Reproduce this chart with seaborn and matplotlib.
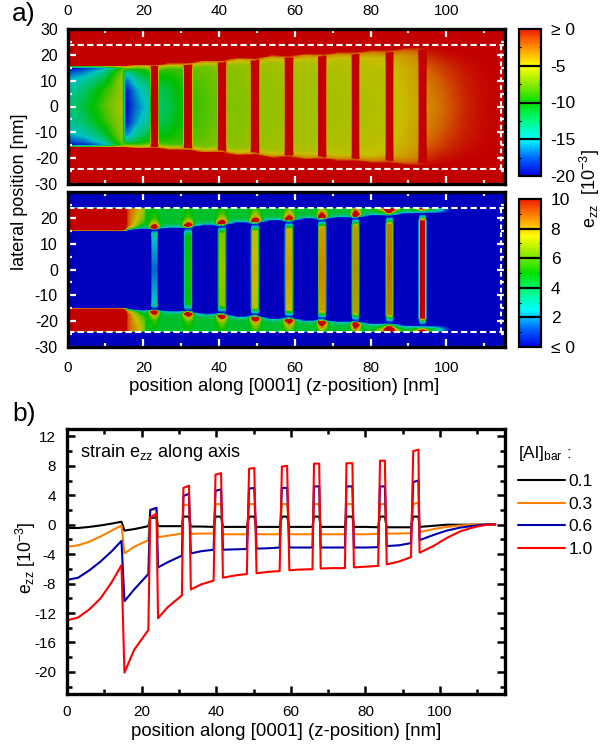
import numpy as np
import matplotlib
matplotlib.use("Agg")
import matplotlib.pyplot as plt
from matplotlib.cm import ScalarMappable
from matplotlib.colors import LinearSegmentedColormap, Normalize
import seaborn as sns

# ---------- panel b: strain along the wire axis ----------
z_axis = [0, 3, 6, 9, 12, 14.6, 15.4, 18, 21.8, 22.3, 24, 24.4, 27, 30.8, 31.2, 32.7, 33.2, 36, 39.3, 39.8, 41.3,
          41.8, 45, 48.2, 48.8, 50.2, 50.8, 54, 57, 57.6, 59, 59.6, 62, 65.8, 66.2, 67.6, 68, 71, 74.5, 74.9, 76.5,
          76.9, 80, 83.4, 83.9, 85.2, 85.7, 89, 92.2, 92.8, 94.2, 94.5, 98.2, 101.8, 105.4, 109, 112.5, 114.8]
strain_01 = [-0.45, -0.45, -0.3, -0.1, 0.15, 0.4, -0.8, -0.6, -0.2, 0.9, 1.0, -0.2, -0.2, -0.2, 1.1, 1.1, -0.25, -0.25, -0.3, 1.1, 1.1,
             -0.3, -0.3, -0.3, 1.1, 1.1, -0.3, -0.3, -0.3, 1.1, 1.1, -0.3, -0.3, -0.3, 1.1, 1.1, -0.3, -0.3, -0.3, 1.1, 1.1,
             -0.3, -0.3, -0.35, 1.1, 1.1, -0.35, -0.35, -0.35, 1.1, 1.1, -0.3, -0.15, 0, 0, 0, 0, 0]
strain_03 = [-3, -2.8, -2.3, -1.6, -0.8, -0.1, -3.9, -3.0, -2.1, 2.0, 2.1, -1.7, -1.5, -1.2, 2.7, 2.7, -1.25, -1.2, -1.2, 2.8, 2.8,
             -1.3, -1.3, -1.3, 2.8, 2.8, -1.3, -1.3, -1.3, 2.8, 2.8, -1.3, -1.3, -1.3, 2.8, 2.8, -1.3, -1.3, -1.3, 2.8, 2.8,
             -1.3, -1.3, -1.25, 2.8, 2.8, -1.2, -1.2, -1.15, 2.8, 3.0, -1.0, -0.6, -0.3, -0.1, 0, 0, 0]
strain_06 = [-7.5, -7.2, -6.2, -5, -3.6, -2.2, -10.4, -8.8, -6.7, 2.0, 2.3, -5.8, -5.1, -4.2, 3.9, 4.2, -3.9, -3.6, -3.4, 4.6, 4.8,
             -3.4, -3.35, -3.3, 4.9, 5.0, -3.25, -3.2, -3.1, 5.0, 5.0, -3.1, -3.1, -3.1, 5.2, 5.2, -3.1, -3.1, -3.1, 5.2, 5.2,
             -3.1, -3.1, -3.05, 5.2, 5.2, -2.9, -2.8, -2.5, 5.8, 6.0, -2.1, -1.4, -0.8, -0.4, -0.15, 0.05, 0.05]
strain_10 = [-13, -12.6, -11.5, -10, -7.8, -5.5, -20.1, -17, -14.3, 1.0, 1.5, -12.7, -11.2, -9.6, 5.0, 5.3, -8.8, -8.1, -7.6, 6.8, 7.0,
             -7.2, -6.9, -6.7, 7.6, 7.7, -6.6, -6.4, -6.3, 7.9, 8.0, -6.2, -6.1, -6.05, 8.3, 8.3, -5.95, -5.9, -5.9, 8.35, 8.35,
             -5.8, -5.7, -5.6, 8.7, 8.7, -5.4, -5.0, -4.4, 10.0, 10.2, -3.8, -2.9, -1.8, -0.9, -0.35, 0, 0.05]
al_labels = ["0.1", "0.3", "0.6", "1.0"]
al_colors = ["#000000", "#FF8000", "#0000AA", "#FF0000"]

# ---------- panel a: wire geometry and strain tables ----------
bar_start = [21.9, 30.8, 39.7, 48.6, 57.5, 66.2, 75.1, 84.0, 92.8]
bar_end = [23.9, 32.8, 41.7, 50.6, 59.5, 68.2, 77.1, 86.0, 94.8]
bar_mid = [1.4, 5.2, 6.9, 7.7, 8.0, 8.3, 8.4, 8.8, 10.5]
bar_near_end = [2.5, 5.0, 6.5, 7.2, 7.6, 8.0, 8.1, 8.5, 10.2]

wire_z = [0, 15, 19, 22.9, 27, 31.8, 36, 40.7, 45, 49.6, 54, 58.5, 63, 67.2, 71.5, 76.1, 80.5, 85, 89, 93.8, 97, 115.5]
wire_edge = [15, 15, 15.6, 15.3, 16, 16.0, 17, 16.9, 18, 17.7, 18.8, 18.5, 19.5, 19.2, 20, 20, 20.8, 20.6, 21.5, 21.7, 21.8, 22]

well_z = [0, 5, 10, 14.6, 15.4, 18, 21.8, 24.4, 30.8, 33.2, 39.3, 41.8, 48.2, 50.8, 57, 59.6, 65.8, 68, 74.5, 76.9,
          83.4, 85.7, 92.2, 94.5, 98.2, 101.8, 105.4, 110, 115.5]
well_r = [0, 0.4, 0.7, 0.9, 1.0, 1.05]
well_r00 = [-13, -11, -8, -5.6, -20, -17, -14.3, -12.7, -9.7, -8.8, -7.6, -7.2, -6.7, -6.6, -6.3, -6.2, -6.05, -5.95, -5.9, -5.8,
            -5.6, -5.4, -4.4, -3.8, -2.9, -1.8, -0.9, -0.2, 0]
well_r04 = [-14, -12, -9, -6, -19.5, -16, -13, -12, -9.5, -8.6, -7.5, -7.1, -6.6, -6.5, -6.2, -6.1, -6, -5.9, -5.8, -5.7,
            -5.5, -5.3, -4.2, -3.3, -2.4, -1.5, -0.7, -0.2, 0]
well_r07 = [-15.5, -14, -11, -6, -17, -13.5, -11, -10.5, -9, -8.2, -7.3, -7, -6.5, -6.4, -6.1, -6, -5.9, -5.8, -5.7, -5.6,
            -5.3, -5, -4, -2.4, -1.6, -0.9, -0.4, -0.1, 0]
well_r09 = [-18, -16.5, -13, -7, -13, -11, -9, -9, -8.5, -7.8, -7, -6.8, -6.3, -6.2, -5.9, -5.8, -5.6, -5.5, -5.4, -5.2,
            -4.8, -4.4, -3.5, -1.2, -0.6, -0.3, -0.1, 0, 0]
well_r10 = [-20, -19, -16, -9, -6, -5.5, -5, -5, -5, -5, -4.5, -4.5, -4.5, -4.5, -4.5, -4, -4, -4, -3.8, -3.8,
            -3.2, -3.2, -2.2, -0.5, -0.2, 0, 0, 0, 0]
well_r11 = [1, 1, 1, 1, -1.5, -1.5, -1.5, -1.5, -1.5, -1.5, -1.5, -1.5, -1.5, -1.5, -1.5, -1.2, -1.2, -1.2, -1.2, -1.2,
            -1, -1, -0.6, 0, 0, 0, 0, 0, 0]

shell_d = [0, 0.4, 1.0, 2.2, 4.0, 7.0]
shell_z = [0, 14.9, 16, 18, 20,
           21.1, 22.9, 24.7, 27.3, 30, 31.8, 33.6, 36.3, 38.9, 40.7, 42.5, 45.1, 47.8, 49.6, 51.4, 54,
           56.7, 58.5, 60.3, 62.8, 65.4, 67.2, 69, 71.7, 74.3, 76.1, 77.9, 80.5, 83.2, 85, 86.8, 89.4,
           92, 93.8, 95.6, 97, 100, 103, 115.5]
gap = [0, 2, 3.8, 4.5, 4.5, 4.5]
near_big = [0, 2, 4, 7, 9, 9]
shell_rows = [[12] * 6, [12] * 6, [3, 5, 8, 9, 9, 9], [1, 3, 6, 7, 7.5, 8], [0, 2, 4, 5.5, 6.5, 7],
              gap, [0, 9, 18, 9, 6, 5], gap, gap,
              gap, [0, 9, 18, 9, 6, 5], gap, gap,
              gap, [0, 9, 18, 9, 6.5, 5], gap, gap,
              gap, [0, 9, 18, 9.5, 7, 5], gap, gap,
              gap, [0, 9, 18, 10, 7, 5], gap, gap,
              gap, [0, 9, 18, 11, 7, 6], gap, gap,
              gap, [0, 9, 18, 11, 7.5, 6], gap, gap,
              near_big, [0, 2, 8, 18, 18, 18], near_big, gap,
              near_big, [0, 2, 5, 18, 18, 18], near_big,
              [0, 2, 4, 4, 4, 4], [0, 0.5, 1, 1, 1, 1], [-1] * 6, [-1] * 6]

dash_y = 24
dash_x = 114.5
z_max_a = 115.5
z_max_b = 117.4

# ---------- styling ----------
sns.set_theme(style="ticks")
plt.rcParams["font.family"] = ["Liberation Sans", "DejaVu Sans"]
plt.rcParams["mathtext.default"] = "regular"
plt.rcParams["axes.unicode_minus"] = False
plt.rcParams["axes.axisbelow"] = False

W, H = 605, 750
fig = plt.figure(figsize=(W / 100, H / 100), dpi=100, facecolor="white")


def box(x0, y0, x1, y1):
    return fig.add_axes([x0 / W, 1 - y1 / H, (x1 - x0) / W, (y1 - y0) / H])


bright = LinearSegmentedColormap.from_list("bright", [
    (0.00, (0, 0, 230 / 255)), (0.12, (0, 100 / 255, 1)), (0.25, (0, 1, 1)), (0.375, (0, 250 / 255, 130 / 255)),
    (0.50, (0, 225 / 255, 0)), (0.625, (140 / 255, 235 / 255, 0)), (0.75, (1, 1, 0)), (0.88, (1, 140 / 255, 0)),
    (1.00, (240 / 255, 30 / 255, 0))])
dark = LinearSegmentedColormap.from_list("dark", [
    (0.00, (0, 0, 190 / 255)), (0.12, (0, 85 / 255, 205 / 255)), (0.25, (0, 195 / 255, 195 / 255)),
    (0.375, (0, 195 / 255, 110 / 255)), (0.50, (0, 190 / 255, 0)), (0.625, (110 / 255, 195 / 255, 0)),
    (0.75, (200 / 255, 190 / 255, 0)), (0.88, (210 / 255, 100 / 255, 0)), (1.00, (195 / 255, 0, 0))])
dark.set_over((195 / 255, 0, 0))
dark.set_under((0, 0, 190 / 255))

# ---------- build both strain maps from the tables ----------
nz, ny = 462, 240
zc = (np.arange(nz) + 0.5) * z_max_a / nz
yc = 30 - (np.arange(ny) + 0.5) * 60 / ny
edge = np.interp(zc, wire_z, wire_edge)
well_tab = np.array([np.interp(zc, well_z, r) for r in (well_r00, well_r04, well_r07, well_r09, well_r10, well_r11)])
shell_cols = np.array(shell_rows, dtype=float).T
shell_tab = np.array([np.interp(zc, shell_z, c) for c in shell_cols])

map_low = np.ones((ny, nz))
map_high = -np.ones((ny, nz))
for j in range(nz):
    a = np.abs(yc)
    r = a / edge[j]
    inside = r < well_r[-1]
    map_low[inside, j] = np.interp(r[inside], well_r, well_tab[:, j])
    d = a - edge[j]
    in_shell = (d >= 0) & (a <= dash_y)
    map_high[in_shell, j] = np.interp(d[in_shell], shell_d, shell_tab[:, j])

for s, e, mid, near in zip(bar_start, bar_end, bar_mid, bar_near_end):
    for j in np.where((zc >= s) & (zc <= e))[0]:
        a = np.abs(yc)
        m = a <= edge[j] + 0.1
        map_low[m, j] = 5
        di = np.maximum(edge[j] - a[m], 0)
        map_high[m, j] = np.interp(di, [0, 0.5, 1.5, 3, edge[j]], [0, 1, 3.5, near, mid])


def soften(arr):
    k = np.array([1, 2, 1]) / 4
    out = np.apply_along_axis(lambda c: np.convolve(c, k, mode="same"), 0, arr)
    out = np.apply_along_axis(lambda c: np.convolve(c, k, mode="same"), 1, out)
    out[0], out[-1] = arr[0], arr[-1]
    out[:, 0], out[:, -1] = arr[:, 0], arr[:, -1]
    return out


ax1 = box(67.5, 29, 505, 184)
ax2 = box(67.5, 192, 505, 347)
cax1 = box(519, 29, 541, 176)
cax2 = box(519, 199, 541, 347)
ax3 = box(67, 429, 505, 694)

sns.heatmap(soften(map_low), ax=ax1, cmap=dark, vmin=-20, vmax=0, cbar=False, xticklabels=False, yticklabels=False)
sns.heatmap(soften(map_high), ax=ax2, cmap=dark, vmin=0, vmax=10, cbar=False, xticklabels=False, yticklabels=False)


def zpos(v):
    return np.asarray(v, float) * nz / z_max_a


def ypos(v):
    return (30 - np.asarray(v, float)) * ny / 60


z_major = [0, 20, 40, 60, 80, 100]
y_major = list(range(-30, 31, 10))
for ax in (ax1, ax2):
    ax.set_xticks(zpos(z_major))
    ax.set_xticks(zpos([10, 30, 50, 70, 90, 110]), minor=True)
    ax.set_yticks(ypos(y_major))
    ax.set_yticks(ypos([-25, -15, -5, 5, 15, 25]), minor=True)
    ax.tick_params(which="major", direction="in", length=6, width=1.6, color="white",
                   top=True, right=True, bottom=True, left=True, labelsize=11.5, pad=7, labelcolor="black")
    ax.tick_params(which="minor", direction="in", length=3, width=1.6, color="white",
                   top=True, right=True, bottom=True, left=True)
    for sp in ax.spines.values():
        sp.set_visible(True)
        sp.set_linewidth(2.4)
        sp.set_color("black")
        sp.set_zorder(10)
    ax.plot(zpos([0, z_max_a]), ypos([dash_y, dash_y]), color="white", lw=1.5, ls=(0, (3, 1.6)))
    ax.plot(zpos([0, z_max_a]), ypos([-dash_y, -dash_y]), color="white", lw=1.5, ls=(0, (3, 1.6)))
    ax.plot(zpos([dash_x, dash_x]), ypos([-dash_y, dash_y]), color="white", lw=1.5, ls=(0, (2.2, 1.6)))
    ax.set_xlabel("")
    ax.set_ylabel("")

ax1.set_yticklabels([str(v) for v in y_major])
ax2.set_yticklabels([str(v) if v != 30 else "" for v in y_major])
ax1.xaxis.tick_top()
ax1.tick_params(axis="x", which="both", top=True, bottom=True, labeltop=True, labelbottom=False)
ax1.set_xticklabels([str(v) for v in z_major])
ax2.set_xticklabels([str(v) for v in z_major])
ax1.tick_params(axis="x", labelsize=11, pad=8)
ax2.tick_params(axis="x", labelsize=11, pad=10)
ax1.tick_params(axis="y", labelrotation=0)
ax2.tick_params(axis="y", labelrotation=0)

# ---------- colour bars ----------
for cax, lo, hi, major, minor, labels in (
        (cax1, -20, 0, [-20, -15, -10, -5, 0], [-17.5, -12.5, -7.5, -2.5], ["-20", "-15", "-10", "-5", "\u2265 0"]),
        (cax2, 0, 10, [0, 2, 4, 6, 8, 10], [1, 3, 5, 7, 9], ["\u2264 0", "2", "4", "6", "8", "10"])):
    cb = fig.colorbar(ScalarMappable(Normalize(lo, hi), bright), cax=cax)
    cb.set_ticks(major)
    cb.set_ticklabels(labels)
    cb.ax.yaxis.set_ticks(minor, minor=True)
    cb.ax.tick_params(which="major", length=0, labelsize=12.5, pad=7, labelcolor="black")
    cb.ax.tick_params(which="minor", direction="in", length=1.5, width=0.8, color="black", left=True, right=True)
    cb.outline.set_linewidth(1.6)
    cb.outline.set_edgecolor("black")
    for v in major[1:-1]:
        cb.ax.axhline(v, color="black", lw=1.6)

# ---------- panel b ----------
for vals, lab, col in zip((strain_01, strain_03, strain_06, strain_10), al_labels, al_colors):
    sns.lineplot(x=z_axis, y=vals, ax=ax3, color=col, lw=1.5, label=lab, sort=False, estimator=None, errorbar=None)
ax3.set_xlim(0, z_max_b)
ax3.set_ylim(-23, 13)
ax3.set_xticks(z_major)
ax3.set_xticks([10, 30, 50, 70, 90, 110], minor=True)
ax3.set_yticks(np.arange(-20, 13, 4))
ax3.set_yticks(np.arange(-22, 13, 4), minor=True)
ax3.tick_params(which="major", direction="in", length=6, width=1.8, color="black",
                top=True, right=True, labelsize=11, pad=8, labelcolor="black")
ax3.tick_params(which="minor", direction="in", length=3.5, width=1.8, color="black", top=True, right=True)
for sp in ax3.spines.values():
    sp.set_visible(True)
    sp.set_linewidth(2.4)
    sp.set_color("black")
ax3.text(3.5, 9.8, "strain e$_{zz}$ along axis", fontsize=13.1, color="black", va="center", ha="left", zorder=5)
ax3.set_xlabel("")
ax3.set_ylabel("")
leg = ax3.legend(loc="upper left", bbox_to_anchor=(518 / W, 1 - 444 / H), bbox_transform=fig.transFigure,
                 frameon=False, title="[Al]$_{bar}$ :", alignment="left", fontsize=12.5, title_fontsize=12.5,
                 handlelength=2.7, handletextpad=0.2, labelspacing=0.42, borderaxespad=0, borderpad=0)
leg._legend_box.sep = 8
for t in leg.get_texts():
    t.set_color("black")
leg.get_title().set_color("black")

# ---------- free labels ----------
fig.text(284 / W, 1 - 386 / H, "position along [0001] (z-position) [nm]", fontsize=13.4, color="black", ha="center", va="center")
fig.text(286 / W, 1 - 732 / H, "position along [0001] (z-position) [nm]", fontsize=13.4, color="black", ha="center", va="center")
fig.text(20 / W, 1 - 192 / H, "lateral position [nm]", fontsize=13, color="black", rotation=90, ha="center", va="center")
fig.text(590 / W, 1 - 188 / H, "e$_{zz}$  [10$^{-3}$]", fontsize=13, color="black", rotation=90, ha="center", va="center")
fig.text(26 / W, 1 - 558 / H, "e$_{zz}$ [10$^{-3}$]", fontsize=12.7, color="black", rotation=90, ha="center", va="center")
fig.text(12 / W, 1 - 14 / H, "a)", fontsize=19, color="black", ha="left", va="center")
fig.text(12 / W, 1 - 414 / H, "b)", fontsize=19, color="black", ha="left", va="center")

fig.savefig("out.png", dpi=100)
